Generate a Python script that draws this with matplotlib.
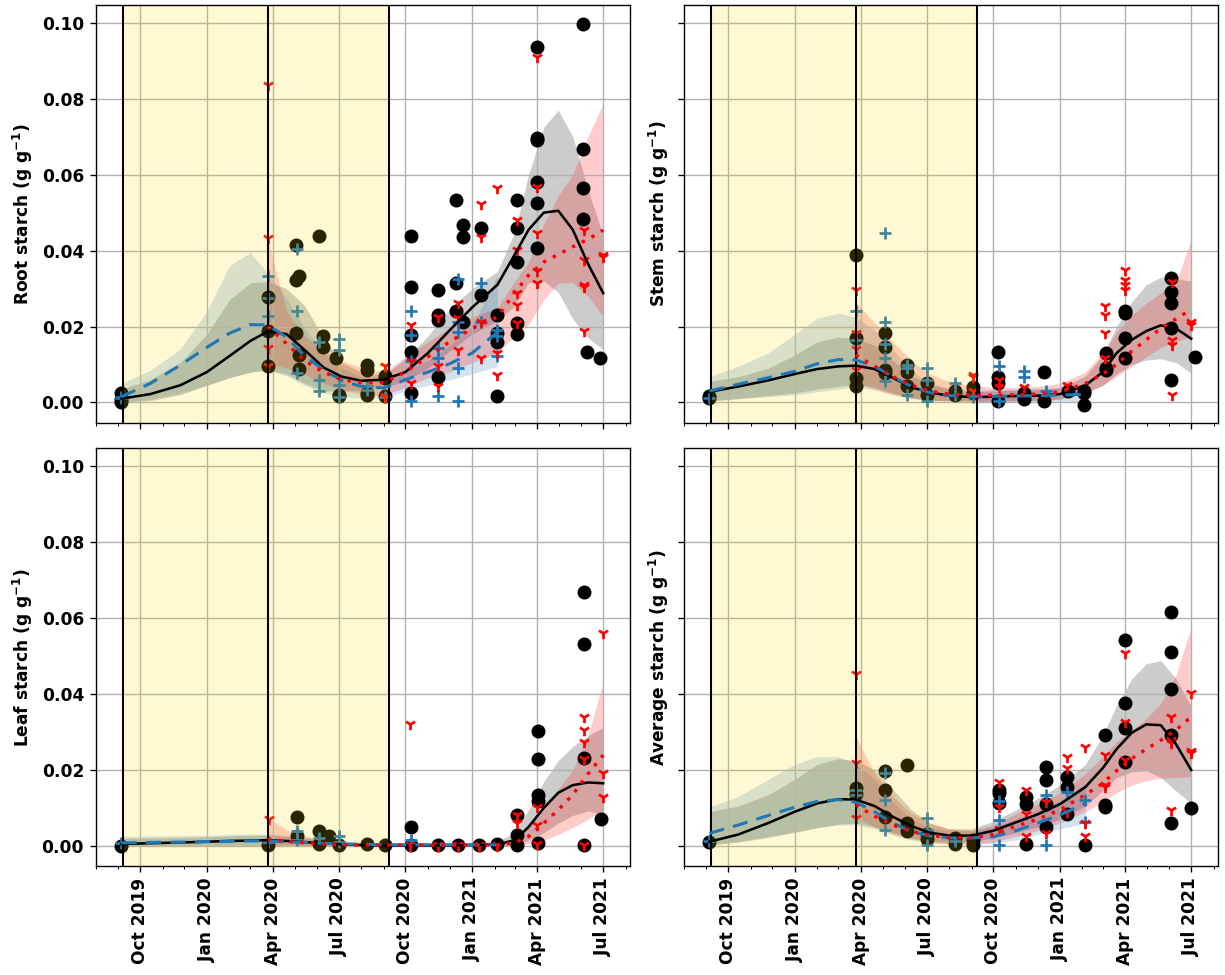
import numpy as np
import matplotlib
matplotlib.use("Agg")
import matplotlib.pyplot as plt
import matplotlib.dates as mdates

plt.rcParams["font.family"] = ["DejaVu Sans"]
plt.rcParams["font.weight"] = "bold"
plt.rcParams["axes.labelweight"] = "bold"
plt.rcParams["font.size"] = 10

# Dates at which the fitted curves and their intervals are tabulated
NODES = ["2019-09-05", "2019-10-15", "2019-11-25", "2020-01-01", "2020-02-01", "2020-03-01",
         "2020-03-25", "2020-04-20", "2020-05-15", "2020-06-10", "2020-07-05", "2020-08-01",
         "2020-09-01", "2020-10-01", "2020-11-01", "2020-12-01", "2021-01-01", "2021-02-05",
         "2021-03-01", "2021-03-20", "2021-04-10", "2021-04-30", "2021-05-20", "2021-06-10",
         "2021-07-01"]
N_BLUE = 18      # blue curve runs Sep 2019 - Feb 2021
RED_START = 6    # red curve starts Mar 2020

# Shaded periods (two consecutive spans)
SPAN_EDGES = ["2019-09-07", "2020-03-25", "2020-09-08"]

YLABELS = ["Root starch (g g$^{-1}$)", "Stem starch (g g$^{-1}$)",
           "Leaf starch (g g$^{-1}$)", "Average starch (g g$^{-1}$)"]

# ---------------- Root ----------------
root_k_obs = {
    "2019-09-05": [0.000, 0.0025, 0.001],
    "2020-03-25": [0.0187, 0.0279, 0.0097],
    "2020-05-03": [0.0323, 0.0415, 0.0183],
    "2020-05-07": [0.0333, 0.0125, 0.0088],
    "2020-06-04": [0.0438],
    "2020-06-09": [0.0175, 0.0147],
    "2020-06-27": [0.0117],
    "2020-07-01": [0.0016, 0.002],
    "2020-08-09": [0.0099, 0.0085, 0.0025, 0.002],
    "2020-09-03": [0.0069, 0.0016, 0.0065],
    "2020-10-09": [0.0439, 0.0304, 0.0178, 0.0132, 0.0025],
    "2020-11-15": [0.0296, 0.0231, 0.0218, 0.0068],
    "2020-12-10": [0.0533, 0.0314, 0.024],
    "2020-12-19": [0.0468, 0.0435, 0.0211],
    "2021-01-13": [0.046, 0.0283],
    "2021-02-05": [0.0016, 0.0231, 0.016, 0.0182],
    "2021-03-04": [0.0533, 0.0459, 0.0369, 0.0209, 0.018],
    "2021-04-01": [0.0937, 0.0691, 0.0696, 0.0582, 0.0525, 0.0406],
    "2021-06-03": [0.0998, 0.0668, 0.0566, 0.0483],
    "2021-06-08": [0.0134],
    "2021-06-27": [0.0118],
}
root_b_obs = {
    "2019-09-05": [0.0012, 0.0015],
    "2020-03-25": [0.0333, 0.0275, 0.0228],
    "2020-05-05": [0.0404, 0.024, 0.0077],
    "2020-06-04": [0.016, 0.006, 0.0029],
    "2020-07-02": [0.0168, 0.0139, 0.0047, 0.0015],
    "2020-08-09": [0.0033, 0.0042],
    "2020-09-03": [0.0015],
    "2020-10-09": [0.024, 0.0178, 0.0108, 0.0003],
    "2020-11-15": [0.0143, 0.0117, 0.0016],
    "2020-12-13": [0.0325, 0.0213, 0.0185, 0.009, 0.0003],
    "2021-01-13": [0.0314, 0.0213],
    "2021-02-05": [0.0191, 0.0175, 0.0123],
}
root_r_obs = {
    "2020-03-25": [0.0836, 0.0433, 0.0143, 0.0097],
    "2020-09-03": [0.0095, 0.0015, 0.0097, 0.0016],
    "2020-10-09": [0.0205, 0.0108, 0.0051],
    "2020-11-15": [0.0226, 0.0095, 0.0042],
    "2020-12-13": [0.0263, 0.0222, 0.0139],
    "2021-01-13": [0.0523, 0.0437, 0.0213, 0.0117],
    "2021-02-05": [0.0564, 0.013, 0.0073],
    "2021-03-04": [0.0481, 0.0402, 0.0288, 0.0257, 0.0209],
    "2021-04-01": [0.0911, 0.0568, 0.0446, 0.0345, 0.0314],
    "2021-06-04": [0.0454, 0.0376, 0.031, 0.0304, 0.0187],
    "2021-07-01": [0.0384, 0.0389],
}
root_k_mean = [0.0010, 0.0022, 0.0045, 0.0080, 0.0122, 0.0162, 0.0187, 0.0180, 0.0138, 0.0092,
               0.0068, 0.0057, 0.0060, 0.0080, 0.0130, 0.0190, 0.0250, 0.0310, 0.0390, 0.0455,
               0.0500, 0.0505, 0.0455, 0.0365, 0.0288]
root_k_hi = [0.0035, 0.0060, 0.0105, 0.0180, 0.0270, 0.0315, 0.0318, 0.0300, 0.0255, 0.0170,
             0.0105, 0.0080, 0.0072, 0.0115, 0.0175, 0.0245, 0.0300, 0.0345, 0.0450, 0.0600,
             0.0725, 0.0770, 0.0700, 0.0560, 0.0440]
root_k_lo = [0.0000, 0.0005, 0.0020, 0.0045, 0.0065, 0.0080, 0.0085, 0.0075, 0.0050, 0.0030,
             0.0030, 0.0032, 0.0040, 0.0055, 0.0090, 0.0135, 0.0180, 0.0215, 0.0255, 0.0315,
             0.0320, 0.0290, 0.0220, 0.0170, 0.0140]
root_b_mean = [0.0015, 0.0050, 0.0098, 0.0145, 0.0182, 0.0205, 0.0204, 0.0172, 0.0122, 0.0086,
               0.0058, 0.0042, 0.0038, 0.0060, 0.0080, 0.0102, 0.0130, 0.0185]
root_b_hi = [0.0050, 0.0085, 0.0140, 0.0240, 0.0360, 0.0395, 0.0340, 0.0275, 0.0195, 0.0130,
             0.0090, 0.0068, 0.0060, 0.0085, 0.0110, 0.0150, 0.0200, 0.0335]
root_b_lo = [0.0000, 0.0008, 0.0025, 0.0045, 0.0065, 0.0080, 0.0085, 0.0070, 0.0045, 0.0025,
             0.0015, 0.0012, 0.0012, 0.0030, 0.0045, 0.0060, 0.0075, 0.0095]
root_r_mean = [0.0200, 0.0155, 0.0110, 0.0080, 0.0060, 0.0052, 0.0052, 0.0080, 0.0120, 0.0160,
               0.0195, 0.0225, 0.0290, 0.0335, 0.0370, 0.0390, 0.0410, 0.0430, 0.0454]
root_r_hi = [0.0430, 0.0240, 0.0175, 0.0135, 0.0110, 0.0092, 0.0078, 0.0120, 0.0160, 0.0195,
             0.0225, 0.0250, 0.0320, 0.0370, 0.0470, 0.0545, 0.0600, 0.0700, 0.0788]
root_r_lo = [0.0105, 0.0090, 0.0075, 0.0050, 0.0032, 0.0022, 0.0018, 0.0040, 0.0065, 0.0080,
             0.0105, 0.0130, 0.0175, 0.0205, 0.0270, 0.0315, 0.0315, 0.0280, 0.0226]

# ---------------- Stem ----------------
stem_k_obs = {
    "2019-09-05": [0.0016, 0.0012],
    "2020-03-25": [0.0389, 0.017, 0.0064, 0.0042],
    "2020-05-05": [0.0183, 0.0147, 0.0086, 0.0078],
    "2020-06-04": [0.0099, 0.008, 0.0042],
    "2020-07-01": [0.002, 0.005],
    "2020-08-09": [0.002, 0.003],
    "2020-09-03": [0.0025, 0.004],
    "2020-10-08": [0.0134, 0.0068, 0.005, 0.0003],
    "2020-11-12": [0.0025, 0.001],
    "2020-12-10": [0.0079, 0.0003],
    "2021-01-12": [0.003],
    "2021-02-03": [0.0029, -0.0006, 0.0025],
    "2021-03-05": [0.013, 0.009, 0.0085],
    "2021-04-01": [0.024, 0.0235, 0.017, 0.0117],
    "2021-06-03": [0.0327, 0.0292, 0.0262, 0.0196, 0.006],
    "2021-07-06": [0.0121],
}
stem_b_obs = {
    "2019-09-05": [0.0012],
    "2020-03-25": [0.0242, 0.0165],
    "2020-05-05": [0.0446, 0.0211, 0.0154, 0.0117, 0.0057],
    "2020-06-04": [0.0099, 0.009, 0.002],
    "2020-07-02": [0.009, 0.006, 0.0005],
    "2020-08-09": [0.0051, 0.002],
    "2020-09-03": [0.0015],
    "2020-10-09": [0.0095, 0.0003],
    "2020-11-12": [0.0082, 0.0067],
    "2020-12-13": [0.003],
}
stem_r_obs = {
    "2020-03-25": [0.0296, 0.0183, 0.014, 0.0086],
    "2020-09-03": [0.0073, 0.0068, 0.003],
    "2020-10-09": [0.006, 0.004],
    "2020-11-12": [0.004],
    "2021-01-10": [0.0045],
    "2021-03-04": [0.0253, 0.0231, 0.0183, 0.0118],
    "2021-04-01": [0.0349, 0.0323, 0.031, 0.0296],
    "2021-06-04": [0.0318, 0.0165, 0.015, 0.002],
    "2021-07-01": [0.0213, 0.0205],
}
stem_k_mean = [0.0028, 0.0042, 0.0058, 0.0075, 0.0088, 0.0095, 0.0097, 0.0088, 0.0065, 0.0040,
               0.0026, 0.0018, 0.0014, 0.0015, 0.0017, 0.0018, 0.0022, 0.0045, 0.0080, 0.0130,
               0.0165, 0.0188, 0.0203, 0.0195, 0.0168]
stem_k_hi = [0.0055, 0.0068, 0.0090, 0.0125, 0.0160, 0.0172, 0.0168, 0.0150, 0.0110, 0.0070,
             0.0048, 0.0035, 0.0028, 0.0030, 0.0032, 0.0033, 0.0038, 0.0070, 0.0125, 0.0200,
             0.0265, 0.0310, 0.0330, 0.0325, 0.0320]
stem_k_lo = [0.0003, 0.0010, 0.0018, 0.0025, 0.0035, 0.0042, 0.0048, 0.0040, 0.0025, 0.0012,
             0.0006, 0.0004, 0.0003, 0.0003, 0.0004, 0.0005, 0.0008, 0.0025, 0.0045, 0.0075,
             0.0100, 0.0112, 0.0115, 0.0105, 0.0077]
stem_b_mean = [0.0030, 0.0048, 0.0065, 0.0082, 0.0102, 0.0113, 0.0112, 0.0095, 0.0068, 0.0042,
               0.0026, 0.0018, 0.0016, 0.0016, 0.0017, 0.0018, 0.0019, 0.0022]
stem_b_hi = [0.0068, 0.0095, 0.0130, 0.0180, 0.0222, 0.0235, 0.0225, 0.0190, 0.0140, 0.0085,
             0.0050, 0.0038, 0.0034, 0.0034, 0.0035, 0.0037, 0.0040, 0.0050]
stem_b_lo = [0.0005, 0.0010, 0.0015, 0.0020, 0.0028, 0.0035, 0.0040, 0.0033, 0.0020, 0.0010,
             0.0005, 0.0003, 0.0003, 0.0003, 0.0003, 0.0003, 0.0003, 0.0003]
stem_r_mean = [0.0125, 0.0095, 0.0068, 0.0045, 0.0030, 0.0022, 0.0019, 0.0019, 0.0020, 0.0022,
               0.0028, 0.0050, 0.0075, 0.0100, 0.0135, 0.0165, 0.0195, 0.0220, 0.0245]
stem_r_hi = [0.0265, 0.0210, 0.0160, 0.0110, 0.0075, 0.0055, 0.0045, 0.0040, 0.0040, 0.0042,
             0.0050, 0.0080, 0.0130, 0.0185, 0.0230, 0.0262, 0.0288, 0.0315, 0.0430]
stem_r_lo = [0.0050, 0.0035, 0.0022, 0.0012, 0.0006, 0.0004, 0.0003, 0.0003, 0.0004, 0.0005,
             0.0010, 0.0025, 0.0045, 0.0068, 0.0095, 0.0120, 0.0145, 0.0160, 0.0174]

# ---------------- Leaf ----------------
leaf_k_obs = {
    "2019-09-05": [0.0],
    "2020-03-25": [0.0002],
    "2020-05-05": [0.0075, 0.0025],
    "2020-06-04": [0.0038, 0.0005],
    "2020-06-17": [0.0025],
    "2020-07-01": [0.0003],
    "2020-08-09": [0.0005],
    "2020-09-03": [0.0003],
    "2020-10-09": [0.0049, 0.0003],
    "2020-11-15": [0.0002],
    "2020-12-13": [0.0002],
    "2021-01-10": [0.0002],
    "2021-02-05": [0.0005],
    "2021-03-04": [0.0082, 0.0029, 0.0003],
    "2021-04-02": [0.0303, 0.0229, 0.0134, 0.0117, 0.0007],
    "2021-06-04": [0.0669, 0.0532, 0.0231, 0.0003],
    "2021-06-28": [0.0071],
}
leaf_b_obs = {
    "2019-09-05": [0.0008],
    "2020-03-25": [0.001],
    "2020-05-05": [0.004, 0.0015],
    "2020-06-04": [0.002],
    "2020-07-02": [0.0025, 0.001],
    "2020-10-09": [0.0015],
}
leaf_r_obs = {
    "2020-03-27": [0.0071],
    "2020-10-08": [0.0321, 0.0003, 0.0],
    "2020-11-15": [0.0003, 0.0],
    "2020-12-13": [0.0003, 0.0],
    "2021-01-10": [0.0003, 0.0],
    "2021-02-05": [0.0003, 0.0],
    "2021-03-04": [0.0082, 0.006],
    "2021-04-01": [0.0103, 0.0054, 0.0005],
    "2021-06-04": [0.034, 0.0305, 0.0274, 0.023, 0.0003],
    "2021-07-01": [0.056, 0.013, 0.0191],
}
leaf_k_mean = [0.0005, 0.0007, 0.0009, 0.0011, 0.0013, 0.0014, 0.0015, 0.0013, 0.0010, 0.0007,
               0.0004, 0.0002, 0.0001, 0.0001, 0.0001, 0.0001, 0.0002, 0.0004, 0.0015, 0.0050,
               0.0100, 0.0140, 0.0160, 0.0167, 0.0165]
leaf_k_hi = [0.0020, 0.0021, 0.0022, 0.0024, 0.0026, 0.0028, 0.0028, 0.0025, 0.0020, 0.0015,
             0.0010, 0.0006, 0.0004, 0.0004, 0.0004, 0.0004, 0.0006, 0.0012, 0.0035, 0.0095,
             0.0170, 0.0225, 0.0262, 0.0290, 0.0312]
leaf_k_lo = [0.0000, 0.0000, 0.0000, 0.0000, 0.0000, 0.0000, 0.0002, 0.0002, 0.0001, 0.0000,
             0.0000, 0.0000, 0.0000, 0.0000, 0.0000, 0.0000, 0.0000, 0.0000, 0.0002, 0.0015,
             0.0035, 0.0060, 0.0080, 0.0092, 0.0082]
leaf_b_mean = [0.0008, 0.0009, 0.0010, 0.0011, 0.0012, 0.0013, 0.0013, 0.0011, 0.0009, 0.0007,
               0.0005, 0.0004, 0.0003, 0.0003, 0.0003, 0.0003, 0.0003, 0.0003]
leaf_b_hi = [0.0025, 0.0026, 0.0027, 0.0028, 0.0030, 0.0031, 0.0031, 0.0028, 0.0023, 0.0018,
             0.0013, 0.0010, 0.0008, 0.0008, 0.0008, 0.0008, 0.0008, 0.0009]
leaf_b_lo = [0.0000, 0.0000, 0.0000, 0.0000, 0.0000, 0.0000, 0.0000, 0.0000, 0.0000, 0.0000,
             0.0000, 0.0000, 0.0000, 0.0000, 0.0000, 0.0000, 0.0000, 0.0000]
leaf_r_mean = [0.0018, 0.0012, 0.0008, 0.0005, 0.0003, 0.0002, 0.0002, 0.0002, 0.0002, 0.0002,
               0.0002, 0.0003, 0.0008, 0.0025, 0.0060, 0.0095, 0.0135, 0.0190, 0.0239]
leaf_r_hi = [0.0075, 0.0042, 0.0026, 0.0016, 0.0010, 0.0007, 0.0006, 0.0006, 0.0006, 0.0006,
             0.0006, 0.0008, 0.0020, 0.0055, 0.0105, 0.0150, 0.0200, 0.0290, 0.0432]
leaf_r_lo = [0.0003, 0.0002, 0.0001, 0.0000, 0.0000, 0.0000, 0.0000, 0.0000, 0.0000, 0.0000,
             0.0000, 0.0000, 0.0001, 0.0005, 0.0015, 0.0030, 0.0048, 0.0070, 0.0095]

# ---------------- Average ----------------
avg_k_obs = {
    "2019-09-05": [0.0011],
    "2020-03-25": [0.0152, 0.0137],
    "2020-05-05": [0.0196, 0.0147, 0.0077],
    "2020-06-04": [0.0213, 0.006, 0.004],
    "2020-07-01": [0.0018, 0.003],
    "2020-08-09": [0.002, 0.0005],
    "2020-09-03": [0.0015, 0.0003],
    "2020-10-09": [0.0139, 0.0147, 0.0112],
    "2020-11-15": [0.013, 0.011, 0.0005],
    "2020-12-13": [0.0209, 0.0174, 0.011, 0.005],
    "2021-01-10": [0.0182, 0.0156, 0.0085],
    "2021-02-05": [0.0003],
    "2021-03-04": [0.0292, 0.0103, 0.0108],
    "2021-04-01": [0.0542, 0.0376, 0.031, 0.0222],
    "2021-06-03": [0.0617, 0.0511, 0.0412, 0.0292, 0.006],
    "2021-07-01": [0.0099],
}
avg_b_obs = {
    "2019-09-05": [0.0012],
    "2020-03-25": [0.0147, 0.0135],
    "2020-05-05": [0.0191, 0.0121, 0.0042],
    "2020-07-02": [0.0073, 0.0042, 0.0003],
    "2020-08-09": [0.0012],
    "2020-10-09": [0.0068, 0.0117, 0.0002],
    "2020-12-13": [0.0134, 0.0003],
    "2021-01-10": [0.0143],
    "2021-02-05": [0.0121, 0.0064],
}
avg_r_obs = {
    "2020-03-25": [0.0454, 0.0219, 0.0073],
    "2020-10-09": [0.0167, 0.0103, 0.0045],
    "2020-11-15": [0.0147, 0.0085, 0.0025],
    "2020-12-13": [0.0115, 0.0035],
    "2021-01-10": [0.0235, 0.0204, 0.009],
    "2021-02-05": [0.0261, 0.0025, 0.006],
    "2021-03-04": [0.0156, 0.016, 0.0239],
    "2021-04-01": [0.0507, 0.0327, 0.0226],
    "2021-06-03": [0.034, 0.0279, 0.0095, 0.027],
    "2021-07-01": [0.0402, 0.0244, 0.025],
}
avg_k_mean = [0.0011, 0.0030, 0.0060, 0.0090, 0.0112, 0.0123, 0.0122, 0.0105, 0.0077, 0.0052,
              0.0035, 0.0027, 0.0027, 0.0040, 0.0062, 0.0083, 0.0110, 0.0155, 0.0205, 0.0255,
              0.0298, 0.0320, 0.0318, 0.0268, 0.0200]
avg_k_hi = [0.0090, 0.0105, 0.0135, 0.0175, 0.0215, 0.0230, 0.0225, 0.0200, 0.0150, 0.0095,
            0.0060, 0.0045, 0.0045, 0.0065, 0.0095, 0.0125, 0.0160, 0.0215, 0.0290, 0.0370,
            0.0440, 0.0480, 0.0488, 0.0440, 0.0367]
avg_k_lo = [0.0002, 0.0010, 0.0022, 0.0035, 0.0048, 0.0057, 0.0060, 0.0050, 0.0035, 0.0020,
            0.0012, 0.0010, 0.0012, 0.0020, 0.0035, 0.0050, 0.0070, 0.0105, 0.0145, 0.0180,
            0.0195, 0.0198, 0.0180, 0.0145, 0.0112]
avg_b_mean = [0.0033, 0.0055, 0.0080, 0.0102, 0.0117, 0.0122, 0.0115, 0.0090, 0.0060, 0.0038,
              0.0026, 0.0021, 0.0021, 0.0024, 0.0040, 0.0060, 0.0082, 0.0112]
avg_b_hi = [0.0103, 0.0130, 0.0175, 0.0215, 0.0235, 0.0235, 0.0215, 0.0175, 0.0115, 0.0070,
            0.0048, 0.0040, 0.0040, 0.0050, 0.0070, 0.0095, 0.0120, 0.0165]
avg_b_lo = [0.0002, 0.0012, 0.0025, 0.0038, 0.0048, 0.0055, 0.0055, 0.0045, 0.0028, 0.0015,
            0.0008, 0.0005, 0.0005, 0.0006, 0.0015, 0.0030, 0.0045, 0.0060]
avg_r_mean = [0.0108, 0.0078, 0.0055, 0.0038, 0.0028, 0.0022, 0.0021, 0.0030, 0.0052, 0.0070,
              0.0095, 0.0135, 0.0165, 0.0198, 0.0230, 0.0255, 0.0278, 0.0305, 0.0340]
avg_r_hi = [0.0290, 0.0190, 0.0130, 0.0085, 0.0060, 0.0045, 0.0040, 0.0055, 0.0085, 0.0110,
            0.0140, 0.0190, 0.0235, 0.0275, 0.0305, 0.0335, 0.0375, 0.0450, 0.0577]
avg_r_lo = [0.0075, 0.0050, 0.0032, 0.0018, 0.0010, 0.0006, 0.0005, 0.0010, 0.0025, 0.0040,
            0.0060, 0.0090, 0.0115, 0.0140, 0.0160, 0.0172, 0.0178, 0.0180, 0.0182]

PANELS = [
    dict(obs=(root_k_obs, root_b_obs, root_r_obs),
         k=(root_k_mean, root_k_lo, root_k_hi), b=(root_b_mean, root_b_lo, root_b_hi),
         r=(root_r_mean, root_r_lo, root_r_hi)),
    dict(obs=(stem_k_obs, stem_b_obs, stem_r_obs),
         k=(stem_k_mean, stem_k_lo, stem_k_hi), b=(stem_b_mean, stem_b_lo, stem_b_hi),
         r=(stem_r_mean, stem_r_lo, stem_r_hi)),
    dict(obs=(leaf_k_obs, leaf_b_obs, leaf_r_obs),
         k=(leaf_k_mean, leaf_k_lo, leaf_k_hi), b=(leaf_b_mean, leaf_b_lo, leaf_b_hi),
         r=(leaf_r_mean, leaf_r_lo, leaf_r_hi)),
    dict(obs=(avg_k_obs, avg_b_obs, avg_r_obs),
         k=(avg_k_mean, avg_k_lo, avg_k_hi), b=(avg_b_mean, avg_b_lo, avg_b_hi),
         r=(avg_r_mean, avg_r_lo, avg_r_hi)),
]


def to_dates(seq):
    return np.array(seq, dtype="datetime64[D]")


def obs_xy(obs):
    xs, ys = [], []
    for d, vals in obs.items():
        for v in vals:
            xs.append(d)
            ys.append(v)
    return to_dates(xs), np.array(ys)


t_all = to_dates(NODES)
t_blue = t_all[:N_BLUE]
t_red = t_all[RED_START:]
edges = to_dates(SPAN_EDGES)

fig, axes = plt.subplots(2, 2, figsize=(10, 975 / 122.5), dpi=122.5,
                         sharex=True, sharey=True)
fig.subplots_adjust(left=96 / 1225, right=1218 / 1225, top=1 - 5 / 975,
                    bottom=1 - 866 / 975, wspace=0.101, hspace=0.062)

for ax, p, ylab in zip(axes.flat, PANELS, YLABELS):
    km, kl, kh = p["k"]
    bm, bl, bh = p["b"]
    rm, rl, rh = p["r"]

    # uncertainty bands
    ax.fill_between(t_all, kl, kh, color="black", alpha=0.2, lw=0, zorder=1)
    ax.fill_between(t_blue, bl, bh, color="tab:blue", alpha=0.2, lw=0, zorder=1)
    ax.fill_between(t_red, rl, rh, color="red", alpha=0.2, lw=0, zorder=1)

    # observations
    ok, ob, orr = p["obs"]
    x, y = obs_xy(ok)
    ax.scatter(x, y, s=52, marker="o", color="black", zorder=2)
    x, y = obs_xy(ob)
    ax.scatter(x, y, s=55, marker="+", color="tab:blue", linewidths=1.6, zorder=2)
    x, y = obs_xy(orr)
    ax.scatter(x, y, s=45, marker="1", color="red", linewidths=1.6, zorder=2)

    # shaded periods
    ax.axvspan(edges[0], edges[1], color="gold", alpha=0.17, lw=0, zorder=2.1)
    ax.axvspan(edges[1], edges[2], color="gold", alpha=0.17, lw=0, zorder=2.1)
    for e in edges:
        ax.axvline(e, color="black", lw=1.2, zorder=2.3)

    # fitted curves
    ax.plot(t_all, km, color="black", lw=1.5, zorder=3)
    ax.plot(t_blue, bm, color="tab:blue", lw=1.8, ls=(0, (5, 3)), zorder=3)
    ax.plot(t_red, rm, color="red", lw=2.0, ls=(0, (1, 2.2)), zorder=3)

    ax.grid(True, color="#b0b0b0", lw=0.8)
    ax.set_ylabel(ylab, fontweight="bold")

axes[0, 0].set_xlim(np.datetime64("2019-08-01"), np.datetime64("2021-08-07"))
axes[0, 0].set_ylim(-0.0053, 0.1047)
axes[0, 0].set_yticks([0.0, 0.02, 0.04, 0.06, 0.08, 0.10])
axes[0, 0].yaxis.set_major_formatter(matplotlib.ticker.FormatStrFormatter("%.2f"))
axes[0, 0].xaxis.set_major_locator(mdates.MonthLocator(bymonth=[1, 4, 7, 10]))
axes[0, 0].xaxis.set_minor_locator(mdates.MonthLocator())
axes[0, 0].xaxis.set_major_formatter(mdates.DateFormatter("%b %Y"))

for ax in axes[1]:
    ax.tick_params(axis="x", labelrotation=90)
for ax in axes.flat:
    for lbl in ax.get_xticklabels() + ax.get_yticklabels():
        lbl.set_fontweight("bold")
for ax in axes[:, 1]:
    ax.set_ylabel("Stem starch (g g$^{-1}$)" if ax is axes[0, 1] else "Average starch (g g$^{-1}$)",
                  fontweight="bold")

fig.savefig("out.png", dpi=122.5)
